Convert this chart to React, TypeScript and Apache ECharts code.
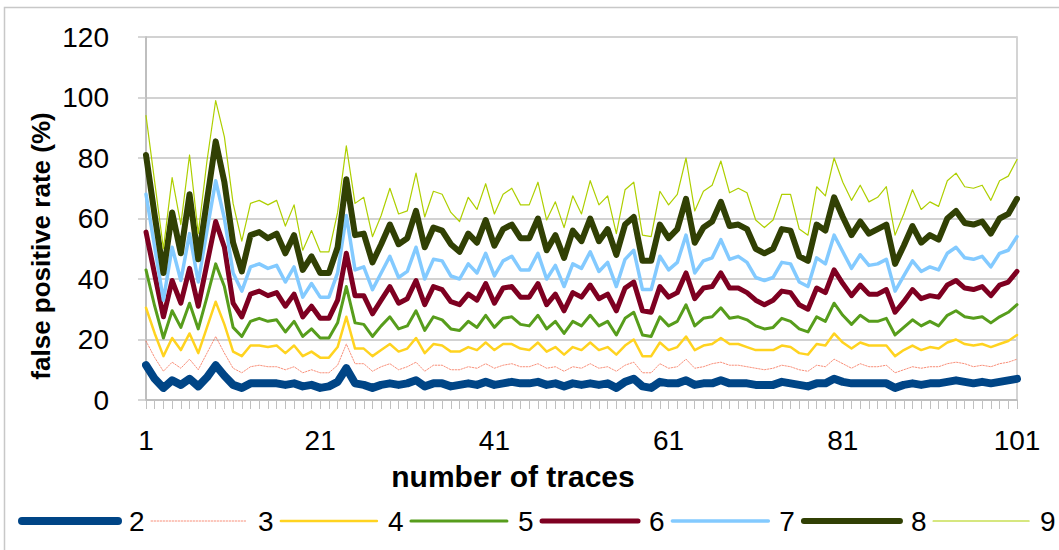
import React, { useEffect, useRef } from "react";
import * as echarts from "echarts";

// x axis: number of traces 1..101
const traces: string[] = Array.from({ length: 101 }, (_, i) => String(i + 1));

const seriesNames = ["2", "3", "4", "5", "6", "7", "8", "9"];

const fpr2 = [11.5, 7, 4, 6.5, 5, 7, 4.5, 7.5, 11.5, 8, 5, 4, 5.5, 5.5, 5.5, 5.5, 5, 5.5, 4.5, 5, 4, 4.5, 6, 10.5, 5.5, 5, 4, 5, 5.5, 5, 5.5, 6.5, 4.5, 5.5, 5.5, 4.5, 5, 5.5, 5, 6, 5, 5.5, 6, 5.5, 5.5, 6, 5, 5.5, 4.5, 5.5, 5, 5.5, 5, 5.5, 4, 6, 7, 4.5, 4, 6, 5.5, 5.5, 6.5, 5, 5.5, 5.5, 6.5, 5.5, 5.5, 5.5, 5, 5, 5, 6, 5.5, 5, 4.5, 5.5, 5.5, 7, 6, 5.5, 5.5, 5.5, 5.5, 5.5, 4, 5, 5.5, 5, 5.5, 5.5, 6, 6.5, 6, 5.5, 6, 5.5, 6, 6.5, 7];
const fpr3 = [19.5, 14, 9.5, 12.5, 10.5, 13.5, 10, 15.5, 21, 15.5, 10.5, 9, 11, 11.5, 11, 11, 10, 11, 9, 10, 9, 9, 11.5, 18.5, 12, 12, 9.5, 11, 12, 10, 11, 12.5, 9.5, 11.5, 11.5, 10, 10, 11, 10.5, 12, 10.5, 11.5, 12, 11, 11, 12, 10.5, 11, 9.5, 11, 10.5, 12, 10.5, 11, 9.5, 11.5, 12.5, 9, 9, 12, 10.5, 11, 13.5, 10.5, 11, 12, 12.5, 11.5, 11.5, 11, 10.5, 10, 10.5, 11.5, 11, 10, 9.5, 11.5, 11, 13.5, 12, 10.5, 12, 11, 11, 11.5, 9, 10, 11, 10.5, 11, 11, 12, 12.5, 12, 11, 11.5, 11, 12, 12.5, 13.5];
const fpr4 = [30.5, 22, 14.5, 20.5, 16.5, 22, 15.5, 24, 32.5, 25, 16, 14.5, 18, 18, 17.5, 18, 15.5, 18, 14.5, 16, 14, 14, 17.5, 27.5, 17, 17, 14.5, 16.5, 18.5, 16, 17, 20.5, 15.5, 18.5, 18, 16, 16, 17.5, 16.5, 19, 16.5, 18.5, 18.5, 17, 16.5, 19, 16, 17.5, 15, 17.5, 16.5, 19, 16.5, 17.5, 15, 18, 20, 14.5, 14.5, 19, 16.5, 17.5, 21, 16.5, 18, 18.5, 20.5, 18.5, 18.5, 17.5, 16.5, 16.5, 16.5, 18, 17.5, 15.5, 15, 18.5, 18, 22, 19, 17, 19, 18, 18, 18, 14.5, 16.5, 18, 16.5, 17.5, 17, 19, 20, 18.5, 18, 18.5, 17.5, 18.5, 19.5, 21.5];
const fpr5 = [43, 31, 20.5, 29.5, 24, 32, 23.5, 34, 45, 37.5, 24, 21, 26, 27, 26, 26.5, 22.5, 26, 21, 23.5, 20.5, 20.5, 25.5, 37.5, 25.5, 25, 21, 24.5, 27.5, 23.5, 24.5, 29.5, 23, 27.5, 26.5, 23.5, 23, 26, 24, 28, 24, 27, 27.5, 25, 24.5, 28, 23.5, 26, 22, 26, 24.5, 28, 24.5, 26, 21.5, 27, 29, 21.5, 21, 27.5, 24.5, 26, 31.5, 24.5, 27, 27.5, 30.5, 27, 27.5, 26.5, 24.5, 23.5, 24, 27, 26, 23.5, 22.5, 27.5, 26, 32, 28, 25, 28, 26, 26, 27, 21.5, 24, 26.5, 24.5, 26, 24.5, 28, 29.5, 27.5, 27, 27.5, 25.5, 27.5, 29, 31.5];
const fpr6 = [55.5, 41.5, 27.5, 39.5, 32, 43.5, 31, 45, 59, 50.5, 32, 27.5, 35, 36, 34.5, 35.5, 31, 35, 27.5, 31, 27, 27, 33, 48.5, 34.5, 34.5, 28.5, 33, 37.5, 32, 33.5, 39.5, 31.5, 37.5, 36.5, 32.5, 31.5, 35, 33, 38.5, 32, 37, 37.5, 34, 34, 38.5, 31.5, 35, 29.5, 35.5, 34, 38, 33.5, 35, 29.5, 37, 39, 29.5, 29, 37.5, 34, 35.5, 42, 33.5, 37, 37.5, 42, 37, 37, 35.5, 33, 31.5, 33, 36, 35.5, 31.5, 30, 37, 35.5, 43, 38.5, 34.5, 38, 35, 35, 36.5, 29, 32.5, 36.5, 33.5, 34.5, 34, 38, 39.5, 37, 36.5, 37.5, 34.5, 38, 39, 42.5];
const fpr7 = [68, 50.5, 33, 50.5, 39.5, 55, 39, 56, 72.5, 60, 42, 36, 44, 45, 43.5, 44.5, 39, 44, 34, 38.5, 34, 34, 42, 61, 43, 44, 36.5, 42, 47.5, 40.5, 42.5, 50.5, 40, 46.5, 46, 41, 40, 45, 42, 48.5, 41, 46, 47.5, 43, 43, 48.5, 40, 44.5, 37.5, 45, 43.5, 49, 42.5, 45.5, 37.5, 46.5, 49.5, 36.5, 36.5, 47.5, 43, 45.5, 54.5, 42, 46, 47, 53, 46.5, 47.5, 45.5, 40.5, 39.5, 40.5, 45.5, 45, 39, 37.5, 47, 45, 54.5, 49, 43.5, 48, 44.5, 45, 46.5, 36, 41, 46, 42.5, 44, 43, 48.5, 50.5, 47, 46.5, 47.5, 44, 48.5, 49.5, 54];
const fpr8 = [81, 61, 42, 62, 48.5, 68, 46.5, 66, 85.5, 72, 52, 42.5, 54.5, 55.5, 53.5, 55, 48.5, 54.5, 43, 47.5, 42, 42, 50.5, 73, 54.5, 55, 45.5, 51.5, 58, 51.5, 53.5, 62.5, 50.5, 57, 56, 51.5, 49, 55, 52, 59.5, 51, 56.5, 58, 53.5, 53.5, 60, 49.5, 54.5, 47, 56, 52.5, 60, 52.5, 56.5, 48, 58, 60.5, 46, 46, 58, 53.5, 56.5, 66.5, 52, 57, 59, 65.5, 57.5, 58, 56.5, 50, 48.5, 50, 56.5, 56, 47.5, 46, 58, 56, 67, 60.5, 54.5, 59, 55, 56.5, 58, 45, 51, 57.5, 52, 54.5, 53, 60, 62.5, 58.5, 58, 59, 55, 60, 61.5, 66.5];
const fpr9 = [94, 72, 50, 73.5, 58, 81, 55, 79, 99, 87, 65, 52.5, 65, 66, 64.5, 66, 57.5, 64.5, 49.5, 56, 49, 49, 62, 84, 65, 67, 54, 61, 70, 61.5, 62.5, 75, 60.5, 69, 68, 62, 59, 67, 63, 71.5, 61.5, 68, 70, 64.5, 64.5, 72, 59.5, 65.5, 57, 67.5, 61.5, 72.5, 64.5, 67.5, 55, 69.5, 72, 54.5, 54, 69, 64.5, 68, 80, 62.5, 69, 71, 79, 68.5, 70, 68.5, 59.5, 57, 59.5, 68, 68, 56.5, 54.5, 70.5, 67.5, 80, 72, 66, 71, 65.5, 67, 70.5, 54.5, 61.5, 69.5, 63, 65.5, 64, 72.5, 75, 70.5, 70, 71, 66, 72.5, 74, 79.5];

const seriesData = [fpr2, fpr3, fpr4, fpr5, fpr6, fpr7, fpr8, fpr9];
const seriesColors = ["#004586", "#f56a4c", "#ffd320", "#579d1c", "#7e0021", "#83caff", "#314004", "#aecf00"];
const seriesWidths = [8, 1, 2.5, 3, 5, 3.5, 6, 1.2];
const seriesTypes = ["solid", [1.5, 1.5], "solid", "solid", "solid", "solid", "solid", "solid"];
const seriesOpacity = [1, 0.75, 1, 1, 1, 1, 1, 1];

const FONT = "'Liberation Sans', Arial, sans-serif";

export default function App() {
  const ref = useRef<HTMLDivElement>(null);

  useEffect(() => {
    if (!ref.current) return;
    const chart = echarts.init(ref.current, undefined, { renderer: "svg" });
    chart.setOption({
      animation: false,
      backgroundColor: "#ffffff",
      grid: {
        left: 146,
        right: 42,
        top: 37,
        bottom: 150,
        show: true,
        borderColor: "#c6c6c6",
        borderWidth: 1.5,
      },
      graphic: [
        {
          type: "rect",
          shape: { x: 4.5, y: 7.5, width: 1200, height: 700 },
          style: { fill: "none", stroke: "#c8c8c8", lineWidth: 1.5 },
          silent: true,
        },
        {
          type: "text",
          x: 41,
          y: 246,
          rotation: Math.PI / 2,
          style: {
            text: "false positive rate (%)",
            font: `bold 26px ${FONT}`,
            fill: "#000",
            align: "center",
            verticalAlign: "middle",
          },
        },
        {
          type: "text",
          x: 513,
          y: 476,
          style: {
            text: "number of traces",
            font: `bold 30px ${FONT}`,
            fill: "#000",
            align: "center",
            verticalAlign: "middle",
          },
        },
      ],
      legend: {
        data: seriesNames,
        left: 18,
        top: 507,
        itemWidth: 96,
        itemHeight: 14,
        itemGap: 6,
        padding: 0,
        textStyle: { fontSize: 28, fontFamily: FONT, color: "#000", padding: [0, 0, 0, 6] },
        itemStyle: { opacity: 0 },
        lineStyle: { width: "inherit" },
      },
      xAxis: {
        type: "category",
        data: traces,
        boundaryGap: false,
        axisLine: { show: true, lineStyle: { color: "#b8b8b8", width: 1.5 } },
        axisTick: { show: true, interval: 0, length: 9, lineStyle: { color: "#c0c0c0", width: 1 } },
        axisLabel: {
          interval: 19,
          fontSize: 28,
          fontFamily: FONT,
          color: "#000",
          margin: 26,
        },
        splitLine: { show: false },
      },
      yAxis: {
        type: "value",
        min: 0,
        max: 120,
        interval: 20,
        axisLine: { show: true, lineStyle: { color: "#b8b8b8", width: 1.5 } },
        axisTick: { show: true, length: 8, lineStyle: { color: "#c8c8c8", width: 1.5 } },
        axisLabel: { fontSize: 28, fontFamily: FONT, color: "#000", margin: 37 },
        splitLine: { show: true, lineStyle: { color: "#d2d2d2", width: 1.8 } },
      },
      series: seriesNames.map((name, k) => ({
        name,
        type: "line",
        data: seriesData[k],
        symbol: "none",
        showSymbol: false,
        color: seriesColors[k],
        lineStyle: {
          color: seriesColors[k],
          width: seriesWidths[k],
          type: seriesTypes[k],
          opacity: seriesOpacity[k],
          cap: "round",
          join: "round",
        },
        z: 2 + k,
      })),
    });
    return () => chart.dispose();
  }, []);

  return (
    <div
      ref={ref}
      style={{ position: "fixed", left: 0, top: 0, width: 1059, height: 550 }}
    />
  );
}
